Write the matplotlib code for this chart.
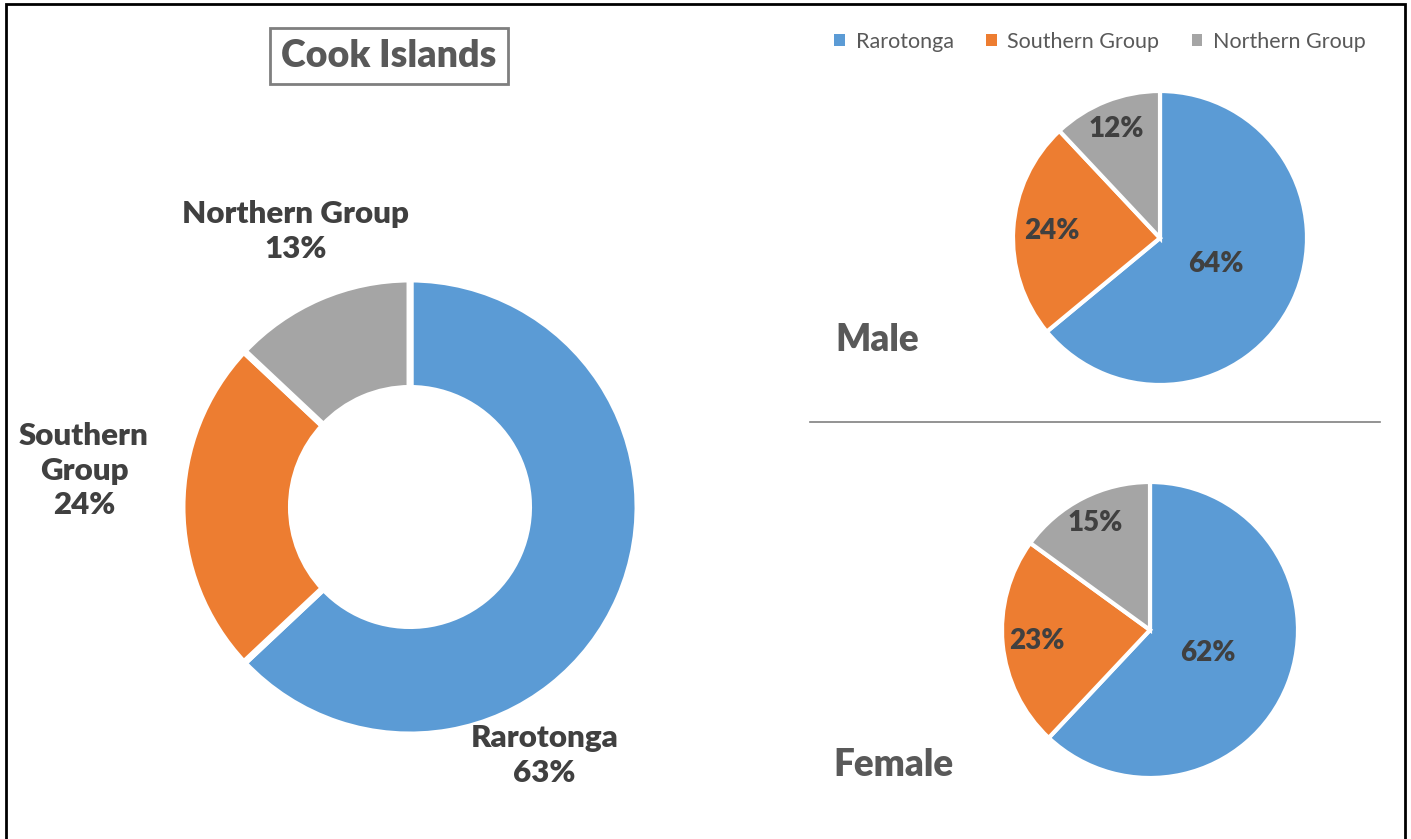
import numpy as np
import matplotlib.pyplot as plt
from matplotlib.patches import Rectangle
from matplotlib.lines import Line2D

# data
groups = ['Rarotonga', 'Southern Group', 'Northern Group']
total_share = [63, 24, 13]
male_share = [64, 24, 12]
female_share = [62, 23, 15]
colors = ['#5B9BD5', '#ED7D31', '#A5A5A5']

W, H = 1411, 839
plt.rcParams['font.family'] = ['Lato', 'DejaVu Sans']

fig = plt.figure(figsize=(W / 100, H / 100), dpi=100)


def pie_axes(cx, cy, r):
    # axes placed in pixel coords so that the pie radius is r px
    ax = fig.add_axes([(cx - r) / W, 1 - (cy + r) / H, 2 * r / W, 2 * r / H])
    ax.axis('off')
    return ax


def fix_limits(ax):
    # pie() resets the limits to +-1.25, put them back to the unit circle
    ax.set_xlim(-1, 1)
    ax.set_ylim(-1, 1)
    ax.set_aspect('equal')


# outer frame
fig.add_artist(Rectangle((6 / W, -0.02), (1405 - 6) / W, 1 - 4 / H + 0.02,
                         transform=fig.transFigure, fill=False,
                         edgecolor='black', linewidth=2))

# donut
ax = pie_axes(410, 507, 228)
ax.pie(total_share, colors=colors, startangle=90, counterclock=False,
       radius=1, wedgeprops=dict(width=0.48, edgecolor='white', linewidth=5))
fix_limits(ax)
donut_labels = ['Rarotonga\n63%', 'Southern\nGroup\n24%', 'Northern Group\n13%']
donut_pos = [(0.59, -1.09), (-1.43, 0.16), (-0.50, 1.21)]
for lab, (x, y) in zip(donut_labels, donut_pos):
    ax.text(x, y, lab, ha='center', va='center', fontsize=22.5,
            fontweight='heavy', color='#404040', linespacing=1.3)

fig.text(389 / W, 1 - 56 / H, 'Cook Islands', ha='center', va='center',
         fontsize=27, fontweight='heavy', color='#595959',
         bbox=dict(boxstyle='square,pad=0.3', facecolor='white',
                   edgecolor='#7F7F7F', linewidth=2))


def small_pie(cx, cy, r, vals, dists):
    a = pie_axes(cx, cy, r)
    wedges, _ = a.pie(vals, colors=colors, startangle=90, counterclock=False,
                      radius=1, wedgeprops=dict(edgecolor='white', linewidth=3))
    fix_limits(a)
    for w, v, d in zip(wedges, vals, dists):
        ang = np.deg2rad((w.theta1 + w.theta2) / 2)
        a.text(d * np.cos(ang), d * np.sin(ang), f'{v}%', ha='center',
               va='center', fontsize=20, fontweight='heavy', color='#404040')
    return a


small_pie(1160, 238, 147, male_share, [0.42, 0.74, 0.80])
small_pie(1150, 630, 148, female_share, [0.42, 0.77, 0.81])

fig.text(835 / W, 1 - 340 / H, 'Male', ha='left', va='center', fontsize=26.5,
         fontweight='heavy', color='#595959')
fig.text(833 / W, 1 - 765 / H, 'Female', ha='left', va='center', fontsize=26.5,
         fontweight='heavy', color='#595959')

# separator
fig.add_artist(Line2D([810 / W, 1380 / W], [1 - 422 / H, 1 - 422 / H],
                      transform=fig.transFigure, color='#808080', linewidth=1.2))

handles = [Rectangle((0, 0), 1, 1, facecolor=c, edgecolor='none') for c in colors]
leg = fig.legend(handles, groups, loc='center', bbox_to_anchor=(1100 / W, 1 - 42 / H),
                 ncol=3, frameon=False, fontsize=15.5, handlelength=0.5,
                 handleheight=0.5, handletextpad=0.5, columnspacing=1.5)
for t in leg.get_texts():
    t.set_color('#595959')

fig.savefig('out.png', dpi=100)
